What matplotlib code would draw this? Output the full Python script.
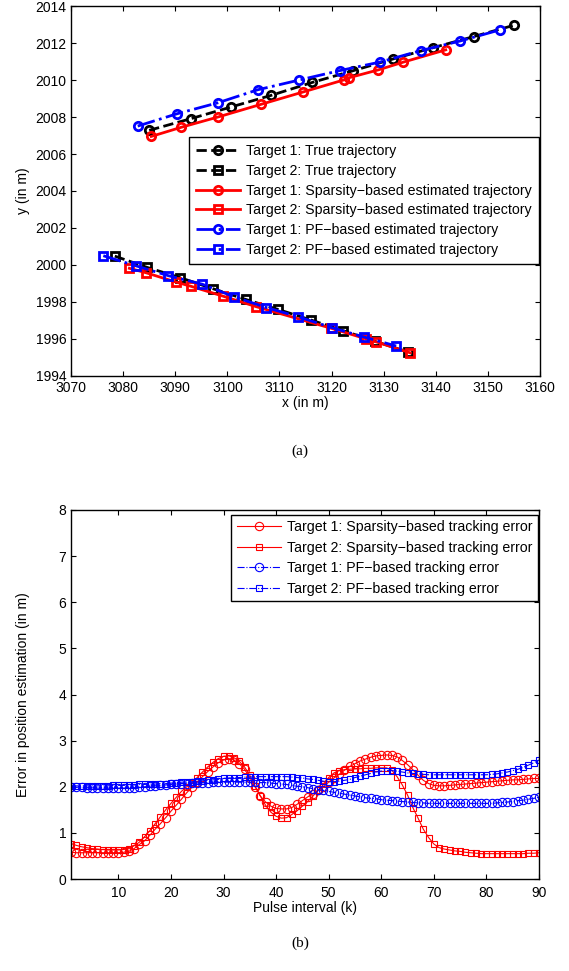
import numpy as np
import matplotlib
matplotlib.use('Agg')
import matplotlib.pyplot as plt

# ---- (a) trajectories ----
t1_true_x = [3085.0, 3093.0, 3100.7, 3108.4, 3116.3, 3124.1, 3131.7, 3139.5, 3147.3, 3155.0]
t1_true_y = [2007.28, 2007.91, 2008.54, 2009.17, 2009.87, 2010.5, 2011.13, 2011.75, 2012.35, 2012.96]
t2_true_x = [3078.4, 3084.6, 3091.0, 3097.2, 3103.5, 3109.7, 3116.0, 3122.2, 3128.4, 3134.6]
t2_true_y = [2000.48, 1999.87, 1999.31, 1998.72, 1998.14, 1997.6, 1997.03, 1996.45, 1995.87, 1995.3]
t1_sp_x = [3085.4, 3091.1, 3098.2, 3106.4, 3114.5, 3122.3, 3123.3, 3129.0, 3133.8, 3141.9]
t1_sp_y = [2006.95, 2007.44, 2008.0, 2008.68, 2009.35, 2010.0, 2010.12, 2010.55, 2010.97, 2011.63]
t2_sp_x = [3081.2, 3084.4, 3090.1, 3093.0, 3099.1, 3105.5, 3119.9, 3126.7, 3128.5, 3135.1]
t2_sp_y = [1999.82, 1999.58, 1999.08, 1998.85, 1998.32, 1997.75, 1996.58, 1996.0, 1995.85, 1995.25]
t1_pf_x = [3082.8, 3090.4, 3098.2, 3105.8, 3113.8, 3121.6, 3129.3, 3137.1, 3144.7, 3152.3]
t1_pf_y = [2007.51, 2008.18, 2008.77, 2009.47, 2010.0, 2010.51, 2010.97, 2011.59, 2012.11, 2012.71]
t2_pf_x = [3076.2, 3082.4, 3088.7, 3095.2, 3101.2, 3107.5, 3113.6, 3120.1, 3126.3, 3132.4]
t2_pf_y = [2000.5, 1999.96, 1999.42, 1998.96, 1998.29, 1997.7, 1997.2, 1996.61, 1996.1, 1995.62]

# ---- (b) tracking errors, k = 1..90 ----
k = list(range(1, 91))
err_t1_sp = [0.58, 0.57, 0.57, 0.57, 0.57, 0.57, 0.57, 0.57, 0.57, 0.57,
             0.58, 0.6, 0.66, 0.75, 0.83, 0.95, 1.08, 1.2, 1.33, 1.47,
             1.6, 1.73, 1.87, 1.99, 2.1, 2.22, 2.33, 2.43, 2.52, 2.58,
             2.61, 2.58, 2.5, 2.38, 2.2, 2.0, 1.8, 1.67, 1.58, 1.53,
             1.52, 1.52, 1.55, 1.62, 1.7, 1.78, 1.85, 1.93, 2.0, 2.1,
             2.19, 2.27, 2.36, 2.44, 2.5, 2.56, 2.6, 2.64, 2.67, 2.68,
             2.69, 2.68, 2.65, 2.57, 2.48, 2.37, 2.25, 2.14, 2.07, 2.03,
             2.02, 2.02, 2.03, 2.04, 2.05, 2.06, 2.07, 2.08, 2.09, 2.1,
             2.11, 2.12, 2.13, 2.14, 2.15, 2.15, 2.16, 2.17, 2.18, 2.18]
err_t2_sp = [0.77, 0.73, 0.7, 0.68, 0.66, 0.65, 0.64, 0.63, 0.63, 0.63,
             0.64, 0.66, 0.72, 0.8, 0.92, 1.05, 1.2, 1.35, 1.5, 1.64,
             1.77, 1.9, 2.0, 2.08, 2.2, 2.32, 2.43, 2.53, 2.61, 2.66,
             2.67, 2.63, 2.55, 2.43, 2.25, 2.02, 1.8, 1.6, 1.45, 1.36,
             1.32, 1.33, 1.4, 1.48, 1.58, 1.68, 1.8, 1.92, 2.05, 2.2,
             2.3, 2.35, 2.37, 2.38, 2.39, 2.39, 2.4, 2.4, 2.41, 2.41,
             2.41, 2.36, 2.22, 2.04, 1.82, 1.55, 1.32, 1.08, 0.9, 0.76,
             0.68, 0.65, 0.63, 0.61, 0.6, 0.58, 0.57, 0.56, 0.55, 0.55,
             0.55, 0.55, 0.55, 0.55, 0.55, 0.55, 0.55, 0.56, 0.56, 0.57]
err_t1_pf = [2.0, 1.99, 1.99, 1.98, 1.98, 1.97, 1.97, 1.97, 1.97, 1.97,
             1.97, 1.98, 1.98, 1.99, 2.0, 2.01, 2.02, 2.03, 2.04, 2.05,
             2.06, 2.07, 2.07, 2.08, 2.08, 2.09, 2.09, 2.1, 2.1, 2.1,
             2.1, 2.1, 2.1, 2.1, 2.1, 2.1, 2.09, 2.09, 2.08, 2.07,
             2.06, 2.05, 2.03, 2.01, 2.0, 1.98, 1.96, 1.94, 1.92, 1.9,
             1.88, 1.86, 1.84, 1.82, 1.8, 1.78, 1.76, 1.75, 1.74, 1.72,
             1.71, 1.7, 1.69, 1.68, 1.67, 1.66, 1.65, 1.65, 1.64, 1.64,
             1.64, 1.64, 1.64, 1.64, 1.64, 1.64, 1.64, 1.64, 1.64, 1.64,
             1.64, 1.65, 1.66, 1.67, 1.68, 1.7, 1.71, 1.73, 1.75, 1.77]
err_t2_pf = [2.02, 2.02, 2.02, 2.02, 2.02, 2.02, 2.02, 2.02, 2.03, 2.03,
             2.03, 2.04, 2.04, 2.05, 2.05, 2.06, 2.06, 2.07, 2.07, 2.08,
             2.09, 2.1, 2.1, 2.11, 2.12, 2.13, 2.14, 2.15, 2.16, 2.18,
             2.19, 2.2, 2.2, 2.21, 2.21, 2.22, 2.22, 2.22, 2.22, 2.22,
             2.22, 2.22, 2.21, 2.2, 2.19, 2.17, 2.16, 2.14, 2.12, 2.11,
             2.11, 2.12, 2.14, 2.16, 2.2, 2.23, 2.26, 2.29, 2.32, 2.34,
             2.35, 2.35, 2.34, 2.32, 2.3, 2.29, 2.28, 2.27, 2.26, 2.26,
             2.26, 2.26, 2.26, 2.26, 2.26, 2.26, 2.26, 2.26, 2.26, 2.26,
             2.27, 2.28, 2.3, 2.32, 2.35, 2.38, 2.42, 2.47, 2.52, 2.58]


def main():
    plt.rcParams['font.family'] = ['Liberation Sans', 'DejaVu Sans']
    plt.rcParams['font.size'] = 10
    plt.rcParams['xtick.direction'] = 'in'
    plt.rcParams['ytick.direction'] = 'in'
    plt.rcParams['xtick.top'] = True
    plt.rcParams['ytick.right'] = True
    plt.rcParams['axes.linewidth'] = 1.0

    fig = plt.figure(figsize=(5.69, 9.71), dpi=100)

    # (a)
    ax = fig.add_axes([0.1248, 0.6128, 0.8243, 0.381])
    mk = dict(markersize=6, markeredgewidth=2, markerfacecolor='none')
    ax.plot(t1_true_x, t1_true_y, '--', color='k', lw=2, marker='o', label='Target 1: True trajectory', **mk)
    ax.plot(t2_true_x, t2_true_y, '--', color='k', lw=2, marker='s', label='Target 2: True trajectory', **mk)
    ax.plot(t1_sp_x, t1_sp_y, '-', color='r', lw=2, marker='o',
            label='Target 1: Sparsity\u2212based estimated trajectory', **mk)
    ax.plot(t2_sp_x, t2_sp_y, '-', color='r', lw=2, marker='s',
            label='Target 2: Sparsity\u2212based estimated trajectory', **mk)
    ax.plot(t1_pf_x, t1_pf_y, '-.', color='b', lw=2, marker='o',
            label='Target 1: PF\u2212based estimated trajectory', **mk)
    ax.plot(t2_pf_x, t2_pf_y, '-.', color='b', lw=2, marker='s',
            label='Target 2: PF\u2212based estimated trajectory', **mk)
    ax.set_xlim(3070, 3160)
    ax.set_ylim(1994, 2014)
    ax.set_xticks(np.arange(3070, 3161, 10))
    ax.set_yticks(np.arange(1994, 2015, 2))
    ax.set_xlabel('x (in m)', labelpad=1)
    ax.set_ylabel('y (in m)')
    ax.yaxis.set_label_coords(-0.088, 0.5)
    leg = ax.legend(loc='upper right', bbox_to_anchor=(0.9975, 0.645), numpoints=1,
                    fontsize=10.2, handlelength=3.1, handletextpad=0.4, borderpad=0.5,
                    labelspacing=0.4, fancybox=False, framealpha=1,
                    edgecolor='k', borderaxespad=0)
    leg.get_frame().set_linewidth(1.0)
    fig.text(0.527, 1 - 451 / 971, '(a)', ha='center', va='center',
             family='Liberation Serif', fontsize=11)

    # (b)
    bx = fig.add_axes([0.1248, 0.0947, 0.8225, 0.3801])
    bx.plot(k, err_t1_sp, '-', color='r', lw=0.8, marker='o', markersize=6,
            markerfacecolor='none', markeredgewidth=0.8,
            label='Target 1: Sparsity\u2212based tracking error')
    bx.plot(k, err_t2_sp, '-', color='r', lw=0.8, marker='s', markersize=4.5,
            markerfacecolor='none', markeredgewidth=0.8,
            label='Target 2: Sparsity\u2212based tracking error')
    bx.plot(k, err_t1_pf, '-.', color='b', lw=0.8, marker='o', markersize=6,
            markerfacecolor='none', markeredgewidth=0.8,
            label='Target 1: PF\u2212based tracking error')
    bx.plot(k, err_t2_pf, '-.', color='b', lw=0.8, marker='s', markersize=4.5,
            markerfacecolor='none', markeredgewidth=0.8,
            label='Target 2: PF\u2212based tracking error')
    bx.set_xlim(1, 90)
    bx.set_ylim(0, 8)
    bx.set_xticks(np.arange(10, 91, 10))
    bx.set_yticks(np.arange(0, 9, 1))
    bx.tick_params(axis='x', pad=5)
    bx.set_xlabel('Pulse interval (k)', labelpad=1)
    bx.set_ylabel('Error in position estimation (in m)')
    bx.yaxis.set_label_coords(-0.088, 0.5)
    leg2 = bx.legend(loc='upper right', bbox_to_anchor=(0.9975, 0.987), numpoints=1,
                     fontsize=10.2, handlelength=3.1, handletextpad=0.4, borderpad=0.4,
                     labelspacing=0.45, fancybox=False, framealpha=1,
                     edgecolor='k', borderaxespad=0)
    leg2.get_frame().set_linewidth(1.0)
    fig.text(0.527, 1 - 943 / 971, '(b)', ha='center', va='center',
             family='Liberation Serif', fontsize=11)

    fig.savefig('out.png', dpi=100)


if __name__ == "__main__":
    main()
